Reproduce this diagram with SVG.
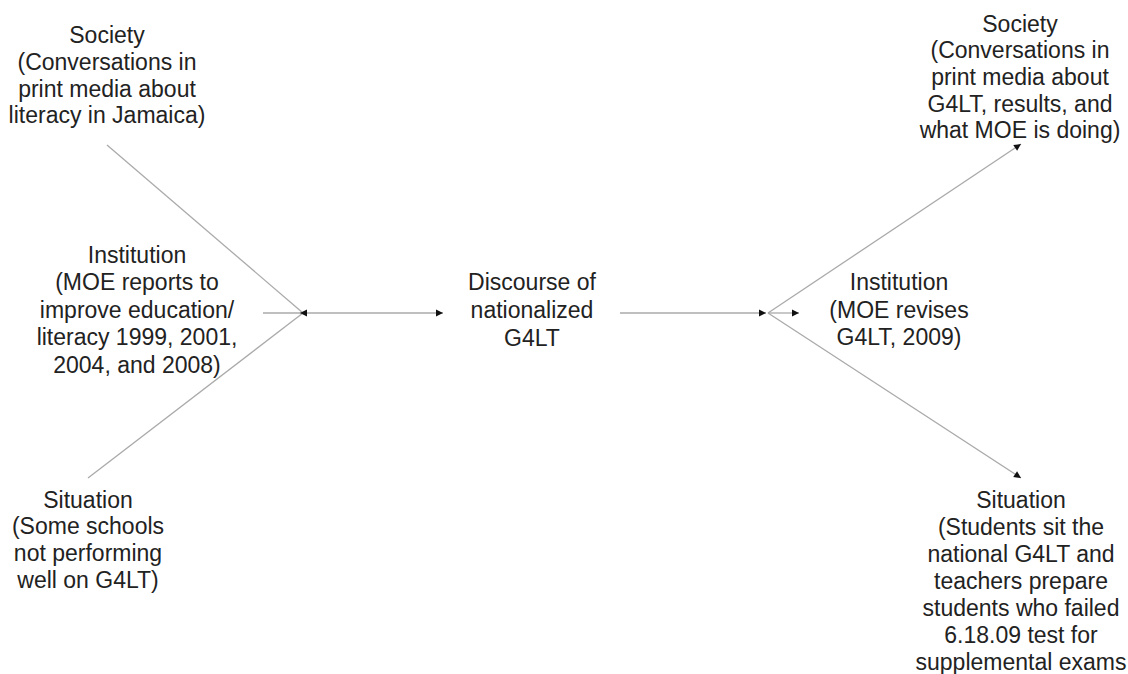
<svg xmlns="http://www.w3.org/2000/svg" width="1128" height="674" viewBox="0 0 1128 674">
<style>
text{font-family:"Liberation Sans",Arial,sans-serif;font-size:23px;fill:#222;text-anchor:middle}
.ln{stroke:#aaa;stroke-width:1.3;fill:none}
</style>
<defs>
<marker id="ah" markerUnits="userSpaceOnUse" markerWidth="10" markerHeight="10" refX="8" refY="5" orient="auto">
<path d="M1,1.5 L8,5 L1,8.5 Z" fill="#111"/>
</marker>
<marker id="ahs" markerUnits="userSpaceOnUse" markerWidth="10" markerHeight="10" refX="1" refY="5" orient="auto">
<path d="M8,1.5 L1,5 L8,8.5 Z" fill="#111"/>
</marker>
</defs>
<rect width="1128" height="674" fill="#fff"/>
<g id="connectors">
<line class="ln" x1="107" y1="145" x2="303" y2="313"/>
<line class="ln" x1="263" y1="313" x2="303" y2="313"/>
<line class="ln" x1="88" y1="478" x2="303" y2="313"/>
<line class="ln" x1="300" y1="313" x2="443" y2="313" marker-start="url(#ahs)" marker-end="url(#ah)"/>
<line class="ln" x1="620" y1="313" x2="766" y2="313" marker-end="url(#ah)"/>
<line class="ln" x1="768" y1="313" x2="799" y2="313" marker-end="url(#ah)"/>
<line class="ln" x1="768" y1="313" x2="1021" y2="144" marker-end="url(#ah)"/>
<line class="ln" x1="768" y1="313" x2="1021" y2="478" marker-end="url(#ah)"/>
</g>
<g id="society-left">
<text x="107" y="43">Society</text>
<text x="107" y="70">(Conversations in</text>
<text x="107" y="97">print media about</text>
<text x="107" y="123">literacy in Jamaica)</text>
</g>
<g id="institution-left">
<text x="137" y="263">Institution</text>
<text x="137" y="290">(MOE reports to</text>
<text x="137" y="318">improve education/</text>
<text x="137" y="345">literacy 1999, 2001,</text>
<text x="137" y="373">2004, and 2008)</text>
</g>
<g id="situation-left">
<text x="88" y="508">Situation</text>
<text x="88" y="534">(Some schools</text>
<text x="88" y="561">not performing</text>
<text x="88" y="588">well on G4LT)</text>
</g>
<g id="discourse">
<text x="532" y="290">Discourse of</text>
<text x="532" y="318">nationalized</text>
<text x="532" y="346">G4LT</text>
</g>
<g id="society-right">
<text x="1020" y="32">Society</text>
<text x="1020" y="58">(Conversations in</text>
<text x="1020" y="85">print media about</text>
<text x="1020" y="112">G4LT, results, and</text>
<text x="1020" y="138">what MOE is doing)</text>
</g>
<g id="institution-right">
<text x="899" y="290">Institution</text>
<text x="899" y="318">(MOE revises</text>
<text x="899" y="345">G4LT, 2009)</text>
</g>
<g id="situation-right">
<text x="1021" y="508">Situation</text>
<text x="1021" y="535">(Students sit the</text>
<text x="1021" y="562">national G4LT and</text>
<text x="1021" y="589">teachers prepare</text>
<text x="1021" y="616">students who failed</text>
<text x="1021" y="643">6.18.09 test for</text>
<text x="1021" y="670">supplemental exams</text>
</g>
</svg>
